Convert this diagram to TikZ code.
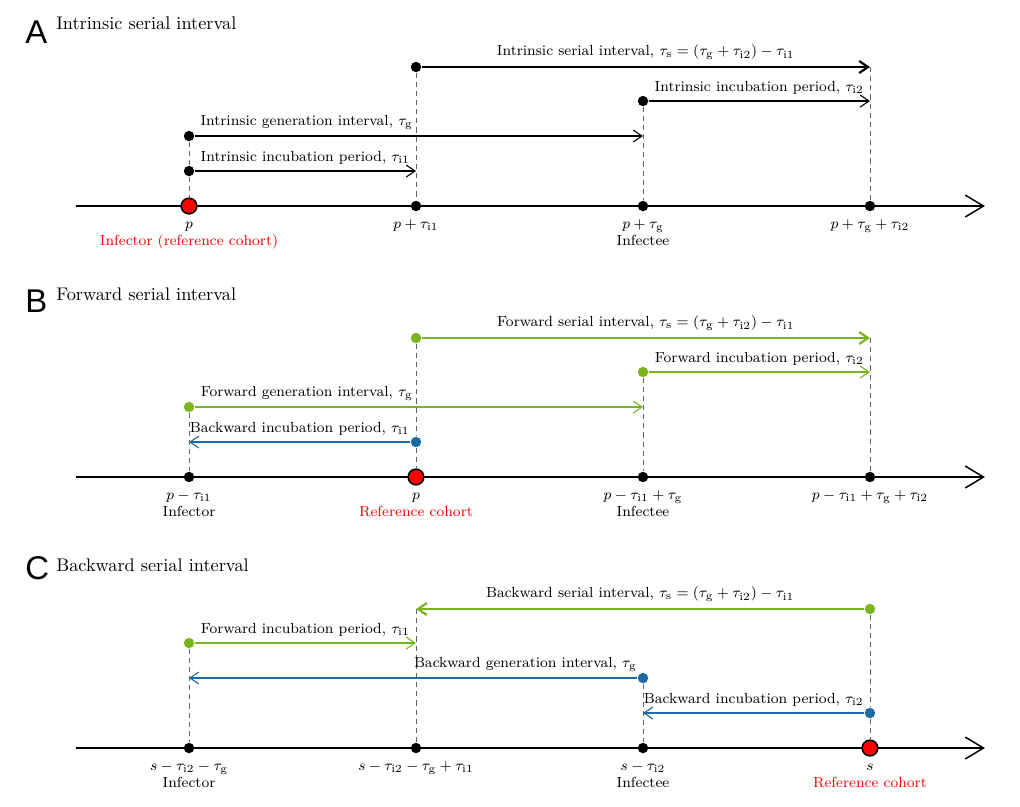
\documentclass[tikz,border=0pt]{standalone}
\usepackage{fontspec}
\usepackage{tikz}
\usetikzlibrary{arrows.meta,positioning}
\newfontfamily\panelfont{Liberation Sans}
\definecolor{fwdgreen}{HTML}{7AB51D}
\definecolor{bwdblue}{HTML}{1A6AA3}
\newcommand{\tauI}[1]{\tau_{\mathrm{i#1}}}
\newcommand{\tauG}{\tau_{\mathrm{g}}}
\newcommand{\tauS}{\tau_{\mathrm{s}}}

\begin{document}
\begin{tikzpicture}[x=1cm,y=1cm,font=\footnotesize,
  dot/.style={circle,fill=black,inner sep=0pt,minimum size=2mm},
  refdot/.style={circle,fill=red,draw=black,line width=0.9pt,inner sep=0pt,minimum size=3mm},
  timeaxis/.style={thick,-{Straight Barb[length=3.5mm,width=4.2mm]}},
  span/.style={semithick,-{Straight Barb[length=1.7mm,width=2.3mm]}},
  serial/.style={very thick,-{Straight Barb[length=1.7mm,width=2.3mm]}},
  guide/.style={gray!80!black,dash pattern=on 2.8pt off 2.2pt},
  ticklab/.style={anchor=base,inner sep=1pt},
  letter/.style={anchor=base west,inner sep=0pt,font=\panelfont\fontsize{18}{18}\selectfont},
  paneltitle/.style={anchor=base west,inner sep=0pt,font=\normalsize}]
 \useasboundingbox (0,0) rectangle (19.615,-15.5);

 % A: intrinsic
 \begin{scope}[shift={(0,-3.962)}]
 \node[letter] (A) at (0.48,3.12) {A};
 \node[paneltitle] (Atitle) at (1.077,3.40) {Intrinsic serial interval};
 \coordinate (Abeg) at (1.46,0); \coordinate (Aend) at (18.94,0);
 \draw[timeaxis] (Abeg) -- (Aend);
 % upper dots and arrow ends
 \node[dot] (Ai1) at (3.635,0.673) {};
 \node[dot] (Ag) at (3.635,1.346) {};
 \node[dot] (Ai2) at (12.365,2.019) {};
 \node[dot] (As) at (8,2.673) {};
 \coordinate (Ai1e) at (8,0.673); \coordinate (Age) at (12.365,1.346);
 \coordinate (Ai2e) at (16.73,2.019); \coordinate (Ase) at (16.73,2.673);
 % ticks
 \node[refdot] (A0) at (3.635,0) {};
 \node[dot] (A1) at (8,0) {};
 \node[dot] (A2) at (12.365,0) {};
 \node[dot] (A3) at (16.73,0) {};
 \draw[guide] (Ag) -- (Ai1) (Ai1) -- (A0) (As) -- (A1) (Ai2) -- (A2) (Ase) -- (A3);
 \draw[span] (Ai1) -- (Ai1e) node[above,pos=0.5]{Intrinsic incubation period, $\tauI1$};
 \draw[span] (Ag) -- (Age) node[above,pos=0.25]{Intrinsic generation interval, $\tauG$};
 \draw[span] (Ai2) -- (Ai2e) node[above,pos=0.5]{Intrinsic incubation period, $\tauI2$};
 \draw[serial] (As) -- (Ase) node[above,pos=0.5]{Intrinsic serial interval, $\tauS=(\tauG+\tauI2)-\tauI1$};
 \node[ticklab] (A0l) at (3.635,-0.43) {$p$};
 \node[ticklab] (A1l) at (8,-0.43) {$p+\tauI1$};
 \node[ticklab] (A2l) at (12.365,-0.43) {$p+\tauG$};
 \node[ticklab] (A3l) at (16.73,-0.43) {$p+\tauG+\tauI2$};
 \node[ticklab,red] (A0r) at (3.635,-0.76) {Infector (reference cohort)};
 \node[ticklab] (A2r) at (12.365,-0.76) {Infectee};
 \end{scope}

 % B: forward
 \begin{scope}[shift={(0,-9.173)}]
 \node[letter] (B) at (0.48,3.17) {B};
 \node[paneltitle] (Btitle) at (1.077,3.40) {Forward serial interval};
 \coordinate (Bbeg) at (1.46,0); \coordinate (Bend) at (18.94,0);
 \draw[timeaxis] (Bbeg) -- (Bend);
 \node[dot,fill=bwdblue] (Bi1) at (8,0.673) {};
 \node[dot,fill=fwdgreen] (Bg) at (3.635,1.346) {};
 \node[dot,fill=fwdgreen] (Bi2) at (12.365,2.019) {};
 \node[dot,fill=fwdgreen] (Bs) at (8,2.673) {};
 \coordinate (Bi1e) at (3.635,0.673); \coordinate (Bge) at (12.365,1.346);
 \coordinate (Bi2e) at (16.73,2.019); \coordinate (Bse) at (16.73,2.673);
 \node[dot] (B0) at (3.635,0) {};
 \node[refdot] (B1) at (8,0) {};
 \node[dot] (B2) at (12.365,0) {};
 \node[dot] (B3) at (16.73,0) {};
 \draw[guide] (Bg) -- (B0) (Bs) -- (Bi1) (Bi1) -- (B1) (Bi2) -- (B2) (Bse) -- (B3);
 \draw[span,bwdblue] (Bi1) -- (Bi1e) node[above,pos=0.5]{\color{black}Backward incubation period, $\tauI1$};
 \draw[span,fwdgreen] (Bg) -- (Bge) node[above,pos=0.25]{\color{black}Forward generation interval, $\tauG$};
 \draw[span,fwdgreen] (Bi2) -- (Bi2e) node[above,pos=0.5]{\color{black}Forward incubation period, $\tauI2$};
 \draw[serial,fwdgreen] (Bs) -- (Bse) node[above,pos=0.5]{\color{black}Forward serial interval, $\tauS=(\tauG+\tauI2)-\tauI1$};
 \node[ticklab] (B0l) at (3.635,-0.43) {$p-\tauI1$};
 \node[ticklab] (B1l) at (8,-0.43) {$p$};
 \node[ticklab] (B2l) at (12.365,-0.43) {$p-\tauI1+\tauG$};
 \node[ticklab] (B3l) at (16.73,-0.43) {$p-\tauI1+\tauG+\tauI2$};
 \node[ticklab] (B0r) at (3.635,-0.76) {Infector};
 \node[ticklab,red] (B1r) at (8,-0.76) {Reference cohort};
 \node[ticklab] (B2r) at (12.365,-0.76) {Infectee};
 \end{scope}

 % C: backward
 \begin{scope}[shift={(0,-14.385)}]
 \node[letter] (C) at (0.48,3.25) {C};
 \node[paneltitle] (Ctitle) at (1.077,3.40) {Backward serial interval};
 \coordinate (Cbeg) at (1.46,0); \coordinate (Cend) at (18.94,0);
 \draw[timeaxis] (Cbeg) -- (Cend);
 \node[dot,fill=bwdblue] (Ci2) at (16.73,0.673) {};
 \node[dot,fill=bwdblue] (Cg) at (12.365,1.346) {};
 \node[dot,fill=fwdgreen] (Ci1) at (3.635,2.019) {};
 \node[dot,fill=fwdgreen] (Cs) at (16.73,2.673) {};
 \coordinate (Ci2e) at (12.365,0.673); \coordinate (Cge) at (3.635,1.346);
 \coordinate (Ci1e) at (8,2.019); \coordinate (Cse) at (8,2.673);
 \node[dot] (C0) at (3.635,0) {};
 \node[dot] (C1) at (8,0) {};
 \node[dot] (C2) at (12.365,0) {};
 \node[refdot] (C3) at (16.73,0) {};
 \draw[guide] (Ci1) -- (C0) (Cse) -- (C1) (Cg) -- (C2) (Cs) -- (Ci2) (Ci2) -- (C3);
 \draw[span,bwdblue] (Ci2) -- (Ci2e) node[above,pos=0.5]{\color{black}Backward incubation period, $\tauI2$};
 \draw[span,bwdblue] (Cg) -- (Cge) node[above,pos=0.25]{\color{black}Backward generation interval, $\tauG$};
 \draw[span,fwdgreen] (Ci1) -- (Ci1e) node[above,pos=0.5]{\color{black}Forward incubation period, $\tauI1$};
 \draw[serial,fwdgreen] (Cs) -- (Cse) node[above,pos=0.5]{\color{black}Backward serial interval, $\tauS=(\tauG+\tauI2)-\tauI1$};
 \node[ticklab] (C0l) at (3.635,-0.43) {$s-\tauI2-\tauG$};
 \node[ticklab] (C1l) at (8,-0.43) {$s-\tauI2-\tauG+\tauI1$};
 \node[ticklab] (C2l) at (12.365,-0.43) {$s-\tauI2$};
 \node[ticklab] (C3l) at (16.73,-0.43) {$s$};
 \node[ticklab] (C0r) at (3.635,-0.76) {Infector};
 \node[ticklab] (C2r) at (12.365,-0.76) {Infectee};
 \node[ticklab,red] (C3r) at (16.73,-0.76) {Reference cohort};
 \end{scope}
\end{tikzpicture}
\end{document}
